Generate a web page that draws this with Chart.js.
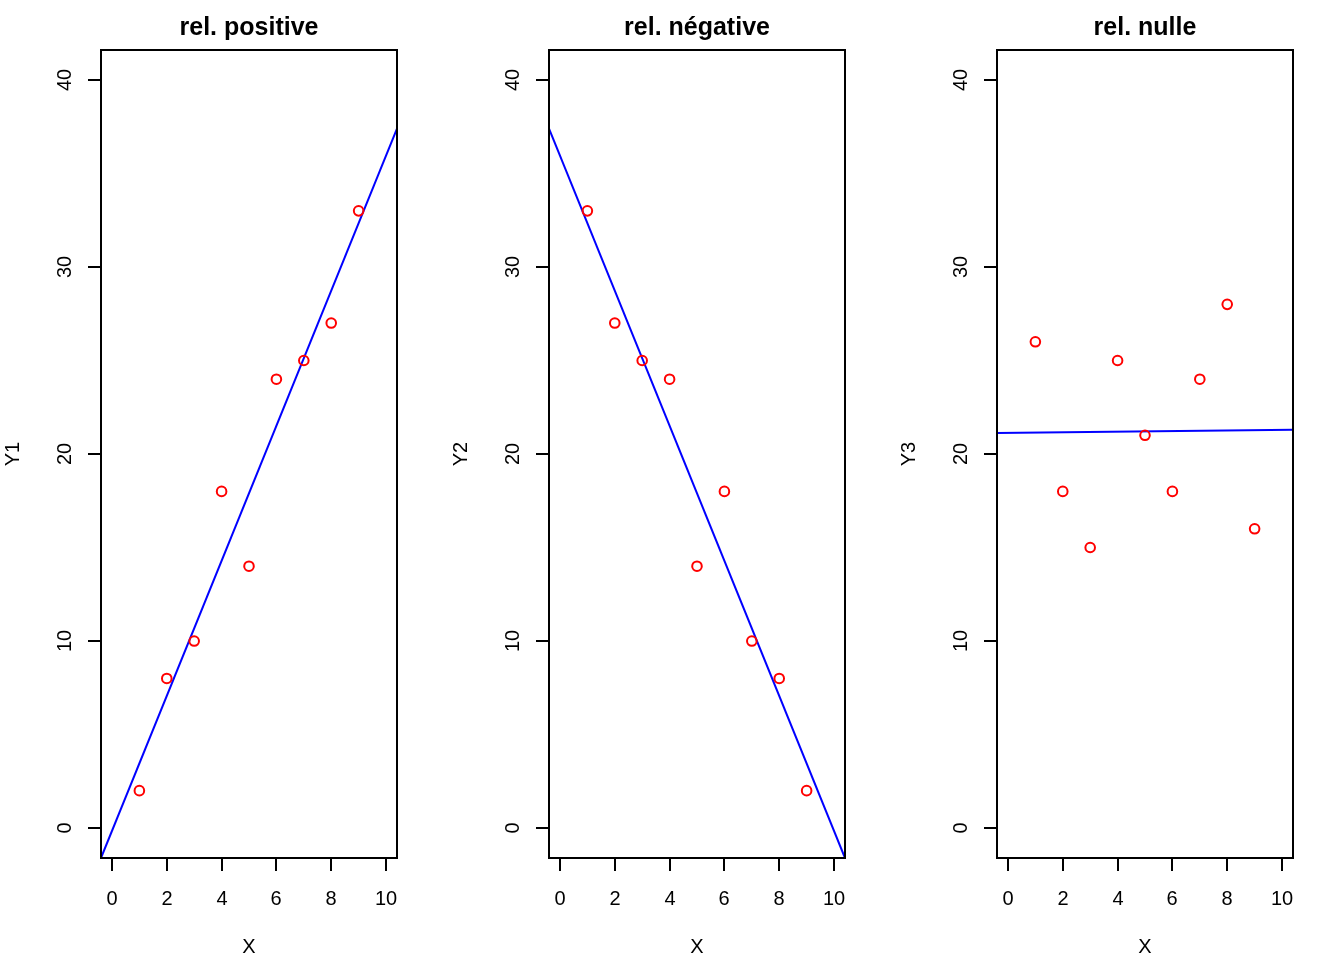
<!DOCTYPE html>
<html>
<head>
<meta charset="utf-8">
<script src="https://cdn.jsdelivr.net/npm/chart.js@4"></script>
<style>
  body { margin: 0; background: #fff; }
  #wrap { position: relative; width: 1344px; height: 960px; }
  canvas { position: absolute; top: 0; }
</style>
</head>
<body>
<div id="wrap">
  <canvas id="c1" width="448" height="960" style="left:0px"></canvas>
  <canvas id="c2" width="448" height="960" style="left:448px"></canvas>
  <canvas id="c3" width="448" height="960" style="left:896px"></canvas>
</div>
<script>
// valeurs
const xValues = [1, 2, 3, 4, 5, 6, 7, 8, 9];
const y1Values = [2, 8, 10, 18, 14, 24, 25, 27, 33];
const y2Values = [33, 27, 25, 24, 14, 18, 10, 8, 2];
const y3Values = [26, 18, 15, 25, 21, 18, 24, 28, 16];

// droites de régression (extrémités lues aux bords du cadre)
const lineX = [-0.4, 10.4];
const lineY1 = [-1.6, 37.4];
const lineY2 = [37.4, -1.6];
const lineY3 = [21.12, 21.3];

const panelTitles = ['rel. positive', 'rel. négative', 'rel. nulle'];
const yAxisTitles = ['Y1', 'Y2', 'Y3'];
const xAxisTitle = 'X';
const xTickValues = [0, 2, 4, 6, 8, 10];
const yTickValues = [0, 10, 20, 30, 40];

const FONT = '"Liberation Sans", Arial, Helvetica, sans-serif';

function toPoints(xs, ys) {
    return xs.map((x, i) => ({ x: x, y: ys[i] }));
}

// dessine le cadre, les axes et les textes façon R
const rAxesPlugin = {
    id: 'rAxes',
    afterDraw(chart, args, opts) {
        const ctx = chart.ctx;
        const area = chart.chartArea;
        const xs = chart.scales.x;
        const ys = chart.scales.y;
        const tick = 13;

        ctx.save();
        ctx.strokeStyle = '#000';
        ctx.fillStyle = '#000';
        ctx.lineWidth = 2;
        ctx.strokeRect(area.left, area.top, area.right - area.left, area.bottom - area.top);

        ctx.font = '20px ' + FONT;
        ctx.textAlign = 'center';
        ctx.textBaseline = 'middle';

        // axe x
        xTickValues.forEach(v => {
            const px = Math.round(xs.getPixelForValue(v));
            ctx.beginPath();
            ctx.moveTo(px, area.bottom);
            ctx.lineTo(px, area.bottom + tick);
            ctx.stroke();
            ctx.fillText(String(v), px, 899);
        });

        // axe y
        yTickValues.forEach(v => {
            const py = Math.round(ys.getPixelForValue(v));
            ctx.beginPath();
            ctx.moveTo(area.left, py);
            ctx.lineTo(area.left - tick, py);
            ctx.stroke();
            ctx.save();
            ctx.translate(65, py);
            ctx.rotate(-Math.PI / 2);
            ctx.fillText(String(v), 0, 0);
            ctx.restore();
        });

        const cx = (area.left + area.right) / 2;
        const cy = (area.top + area.bottom) / 2;

        ctx.fillText(xAxisTitle, cx, 947);

        ctx.save();
        ctx.translate(13, cy);
        ctx.rotate(-Math.PI / 2);
        ctx.fillText(opts.yTitle, 0, 0);
        ctx.restore();

        ctx.font = 'bold 25px ' + FONT;
        ctx.fillText(opts.title, cx, 28);
        ctx.restore();
    }
};

function makePanel(canvasId, yValues, lineY, title, yTitle) {
    const ctx = document.getElementById(canvasId).getContext('2d');
    return new Chart(ctx, {
        type: 'scatter',
        data: {
            datasets: [{
                data: toPoints(xValues, yValues),
                pointStyle: 'circle',
                pointRadius: 4.8,
                pointBorderWidth: 2,
                pointBorderColor: '#ff0000',
                pointBackgroundColor: 'rgba(0,0,0,0)',
                showLine: false
            }, {
                data: toPoints(lineX, lineY),
                showLine: true,
                borderColor: '#0000ff',
                borderWidth: 2,
                pointRadius: 0,
                clip: 0
            }]
        },
        options: {
            responsive: false,
            devicePixelRatio: 1,
            animation: false,
            layout: { padding: { left: 101, right: 51, top: 50, bottom: 102 } },
            scales: {
                x: { type: 'linear', min: -0.4, max: 10.4, display: false },
                y: { type: 'linear', min: -1.6, max: 41.6, display: false }
            },
            plugins: {
                legend: { display: false },
                tooltip: { enabled: false },
                rAxes: { title: title, yTitle: yTitle }
            }
        },
        plugins: [rAxesPlugin]
    });
}

makePanel('c1', y1Values, lineY1, panelTitles[0], yAxisTitles[0]);
makePanel('c2', y2Values, lineY2, panelTitles[1], yAxisTitles[1]);
makePanel('c3', y3Values, lineY3, panelTitles[2], yAxisTitles[2]);
</script>
</body>
</html>
